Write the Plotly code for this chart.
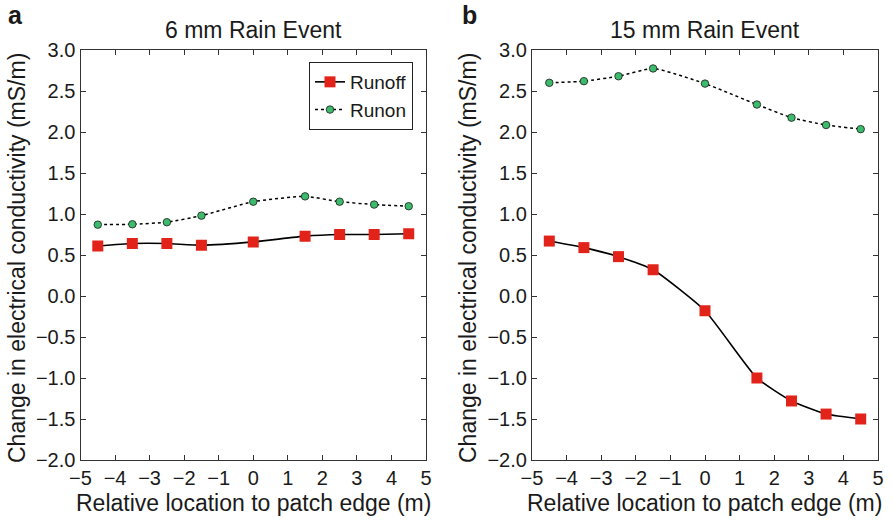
import plotly.graph_objects as go

x_pos = [-4.5, -3.5, -2.5, -1.5, 0, 1.5, 2.5, 3.5, 4.5]
runoff_6mm = [0.61, 0.64, 0.64, 0.62, 0.66, 0.73, 0.75, 0.75, 0.76]
runon_6mm = [0.87, 0.875, 0.90, 0.98, 1.15, 1.215, 1.15, 1.115, 1.095]
runoff_15mm = [0.67, 0.59, 0.48, 0.32, -0.18, -1.00, -1.28, -1.44, -1.50]
runon_15mm = [2.60, 2.62, 2.68, 2.775, 2.59, 2.335, 2.175, 2.085, 2.035]
panel_titles = ["6 mm Rain Event", "15 mm Rain Event"]
panel_letters = ["a", "b"]
x_ticks = [-5, -4, -3, -2, -1, 0, 1, 2, 3, 4, 5]
y_ticks = [-2.0, -1.5, -1.0, -0.5, 0.0, 0.5, 1.0, 1.5, 2.0, 2.5, 3.0]

W, H = 892, 520
FONT = "Liberation Sans, Arial, Helvetica, sans-serif"
RED = "#e2231a"
GREEN = "#3dbb6c"
TXT = "#1a1a1a"

fig = go.Figure()

series = [(runoff_6mm, runon_6mm, "x", "y", True), (runoff_15mm, runon_15mm, "x2", "y2", False)]
for roff, ron, xa, ya, show in series:
    fig.add_trace(go.Scatter(x=x_pos, y=roff, xaxis=xa, yaxis=ya, name="Runoff", mode="lines+markers",
                             line=dict(color="black", width=1.6, shape="spline", smoothing=0.5),
                             marker=dict(symbol="square", size=11, color=RED), showlegend=show))
    fig.add_trace(go.Scatter(x=x_pos, y=ron, xaxis=xa, yaxis=ya, name="Runon", mode="lines+markers",
                             line=dict(color="black", width=1.5, dash="dot", shape="spline", smoothing=0.5),
                             marker=dict(symbol="circle", size=7.5, color=GREEN, line=dict(color=TXT, width=0.8)),
                             showlegend=show))

xd = [(80.5 / W, 426 / W), (532 / W, 878 / W)]
yd = (1 - 460 / H, 1 - 50 / H)

axis_common = dict(showgrid=False, zeroline=False, showline=True, linecolor="#333333", linewidth=1.2,
                   mirror="ticks", ticks="inside", ticklen=5, tickcolor="#333333", tickwidth=1,
                   automargin=False,
                   tickfont=dict(family=FONT, size=20, color=TXT))

layout = dict(width=W, height=H, margin=dict(l=0, r=0, t=0, b=0, autoexpand=False),
              paper_bgcolor="white", plot_bgcolor="white",
              font=dict(family=FONT, color=TXT))
for i, (xn, yn) in enumerate([("xaxis", "yaxis"), ("xaxis2", "yaxis2")]):
    suffix = "" if i == 0 else "2"
    layout[xn] = dict(axis_common, domain=list(xd[i]), range=[-5, 5], tickvals=x_ticks,
                      anchor="y" + suffix)
    layout[yn] = dict(axis_common, domain=list(yd), range=[-2, 3], tickvals=y_ticks, tickformat=".1f",
                      anchor="x" + suffix)
fig.update_layout(**layout)

fig.update_layout(legend=dict(x=309 / W, y=1 - 62 / H, xanchor="left", yanchor="top",
                              bordercolor="#222222", borderwidth=1, bgcolor="white",
                              font=dict(family=FONT, size=19, color=TXT),
                              tracegroupgap=0, itemwidth=30))

ann = []
for i in range(2):
    cx = (xd[i][0] + xd[i][1]) / 2
    common = dict(xref="paper", yref="paper", showarrow=False, xanchor="center", yanchor="middle")
    ann.append(dict(common, text=panel_titles[i], x=cx, y=1 - 30 / H,
                    font=dict(family=FONT, size=23, color=TXT)))
    ann.append(dict(common, text="Relative location to patch edge (m)", x=cx, y=1 - 503 / H,
                    font=dict(family=FONT, size=23, color=TXT)))
    ann.append(dict(common, text="Change in electrical conductivity (mS/m)", x=(17 if i == 0 else 468) / W,
                    y=1 - 258 / H, textangle=-90,
                    font=dict(family=FONT, size=23, color=TXT)))
    ann.append(dict(common, text="<b>%s</b>" % panel_letters[i], x=(15 if i == 0 else 469) / W, y=1 - 15 / H,
                    font=dict(family=FONT, size=25, color=TXT)))
fig.update_layout(annotations=ann)

fig.write_html("out.html", config={"displayModeBar": False},
               post_script="document.body.style.margin='0';document.body.style.padding='0';")
